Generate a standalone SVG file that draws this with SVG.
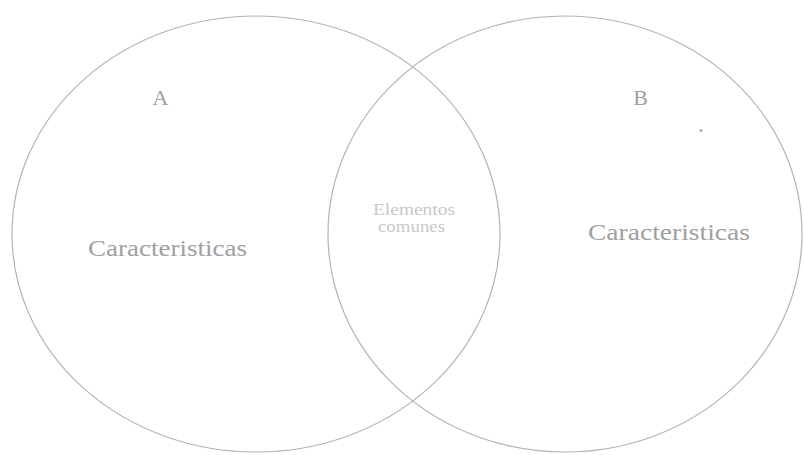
<svg xmlns="http://www.w3.org/2000/svg" width="804" height="455" viewBox="0 0 804 455">
<style>
.set{fill:none;stroke:#b4b4b4;stroke-width:1.2}
.t{font-family:"Liberation Serif","Times New Roman",serif;fill:#a0a0a0}
.s{fill:#c8c8c8}
</style>
<rect width="804" height="455" fill="#ffffff"/>
<g id="setA">
<ellipse class="set" cx="256" cy="234" rx="244" ry="218"/>
<text class="t" x="160.5" y="105" font-size="22" text-anchor="middle">A</text>
<text class="t" x="88" y="256" font-size="23" textLength="159" lengthAdjust="spacingAndGlyphs">Caracteristicas</text>
</g>
<g id="setB">
<ellipse class="set" cx="565" cy="234" rx="237" ry="218"/>
<text class="t" x="640.5" y="105" font-size="22" text-anchor="middle">B</text>
<text class="t" x="588" y="240" font-size="23" textLength="162" lengthAdjust="spacingAndGlyphs">Caracteristicas</text>
<circle cx="701" cy="130.5" r="1.5" fill="#aaaaaa"/>
</g>
<g id="intersection">
<text class="t s" x="373" y="215" font-size="16" textLength="82" lengthAdjust="spacingAndGlyphs">Elementos</text>
<text class="t s" x="378" y="232" font-size="16" textLength="67" lengthAdjust="spacingAndGlyphs">comunes</text>
</g>
<g id="connectors"></g>
</svg>
